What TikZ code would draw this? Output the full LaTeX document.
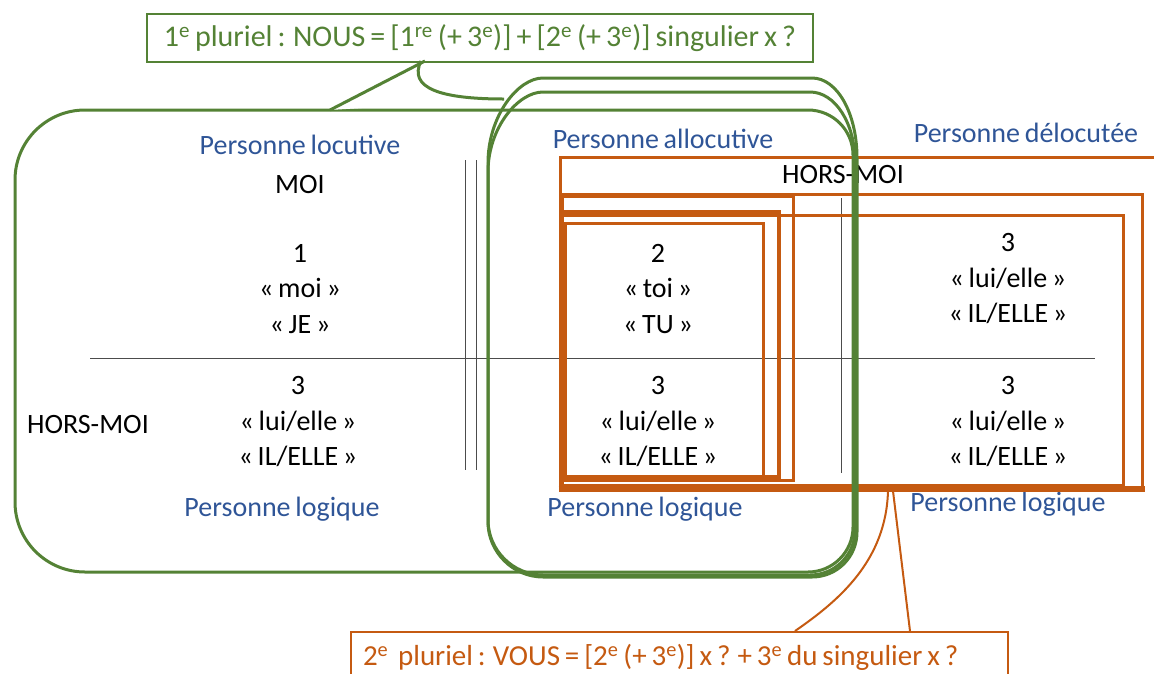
\documentclass[tikz,border=0pt]{standalone}
\usepackage{fontspec}
\setmainfont{Carlito}[WordSpace=0.75]
\usepackage{xcolor}
\usetikzlibrary{positioning}
\definecolor{grn}{HTML}{548235}
\definecolor{org}{HTML}{C55A11}
\definecolor{blu}{HTML}{2F5597}

\begin{document}
\begin{tikzpicture}[
    x=1pt, y=-1pt,
    txt/.style={align=center, font=\fontsize{28}{35.5}\selectfont, inner sep=0pt},
    perslabel/.style={txt, text=blu},
    gline/.style={draw=grn, line width=3pt},
    oline/.style={draw=org, line width=3pt},
    rule/.style={draw=black!70, line width=1pt},
    callout/.style={draw, line width=2pt, fill=white, anchor=north west,
        font=\fontsize{30}{34}\selectfont, inner xsep=12pt}
]
\useasboundingbox (0,0) rectangle (1154,673);

% grid of the table
\draw[rule] (90,358) -- (1095,358);
\draw[rule] (465,160) -- (465,470);
\draw[rule] (476,160) -- (476,470);
\draw[rule] (841,198) -- (841,473);

% first column
\node[perslabel] (loc) at (300,145) {Personne locutive};
\node[txt, below=20pt of loc] (moi) {MOI};
\node[txt] (je) at (300,289) {1\\« moi »\\« JE »};
\node[txt] (il1) at (298,422) {3\\« lui/elle »\\« IL/ELLE »};
\node[txt] (horsmoi) at (88,425) {HORS-MOI};
\node[perslabel] (log1) at (282,509) {Personne logique};

% second column
\node[perslabel] (alloc) at (663,139) {Personne allocutive};
\node[txt] (tu) at (658,289) {2\\« toi »\\« TU »};
\node[txt] (il2) at (658,422) {3\\« lui/elle »\\« IL/ELLE »};
\node[perslabel] (log2) at (645,509) {Personne logique};

% third column
\node[perslabel] (deloc) at (1026,133) {Personne délocutée};
\node[txt] (horsmoi2) at (843,175) {HORS-MOI};
\node[txt] (il3) at (1008,279) {3\\« lui/elle »\\« IL/ELLE »};
\node[txt] (il4) at (1008,422) {3\\« lui/elle »\\« IL/ELLE »};
\node[perslabel] (log3) at (1008,504) {Personne logique};

% orange frames
\draw[oline] (1160,157) -- (560,157) -- (560,489);
\draw[draw=org, line width=6pt] (558.5,489) -- (1145,489);
\draw[oline] (562,194) rectangle (1142,489);
\draw[oline] (562,215) rectangle (1123,485);
\draw[oline] (562,196) rectangle (793,480);
\draw[draw=org, line width=4pt] (562,212) rectangle (779,477);
\draw[oline] (565,223) rectangle (763,476);

% green frames
\draw[gline] (434,110) [rounded corners=45] -- (853,110) -- (853,572)
    [rounded corners=70] -- (15,572) -- (15,110) -- cycle;
\draw[gline] (543,92) -- (810,92) .. controls (835,92) and (855,123) .. (855,162)
    -- (855,530) .. controls (855,555) and (835,575) .. (810,575)
    -- (543,575) .. controls (513,575) and (488,550) .. (488,520)
    -- (488,172) .. controls (488,128) and (518,92) .. (543,92) -- cycle;
\draw[gline] (543,78) -- (812,78) .. controls (837,78) and (857,113) .. (857,158)
    -- (857,532) .. controls (857,557) and (837,577) .. (812,577)
    -- (543,577) .. controls (513,577) and (488,552) .. (488,522)
    -- (488,163) .. controls (488,116) and (518,78) .. (543,78) -- cycle;

% callouts
\node[callout, draw=grn, text=grn, minimum width=666pt, minimum height=48pt]
    (nous) at (146,13) {1\textsuperscript{e} pluriel : NOUS = [1\textsuperscript{re} (+ 3\textsuperscript{e})] + [2\textsuperscript{e} (+ 3\textsuperscript{e})] singulier x ?};
\coordinate (nousA) at (425,61);
\coordinate (nousB) at (421,61);
\coordinate (nousTip) at (330,110);
\coordinate (nousEnd) at (504,99);
\fill[white] (nousTip) -- (nousA) -- (nousB) .. controls (408,88) and (440,99) .. (nousEnd) -- cycle;
\draw[draw=grn, line width=3pt, line join=round] (nousTip) -- (nousA);
\draw[draw=grn, line width=3pt] (nousB) .. controls (408,88) and (440,99) .. (nousEnd);

\node[callout, draw=org, text=org, minimum height=50pt, font=\fontsize{29}{34}\selectfont]
    (vous) at (350,631) {\makebox[633pt][l]{2\textsuperscript{e}\ \ pluriel : VOUS = [2\textsuperscript{e} (+ 3\textsuperscript{e})] x ? + 3\textsuperscript{e} du singulier x ?}};
\coordinate (vousA) at (888,491);
\coordinate (vousB) at (893,491);
\coordinate (vousC) at (795,631);
\coordinate (vousD) at (910,631);
\draw[draw=org, line width=2pt] (vousA) .. controls (886,560) and (840,600) .. (vousC);
\draw[draw=org, line width=2pt] (vousB) -- (vousD);

\end{tikzpicture}
\end{document}
